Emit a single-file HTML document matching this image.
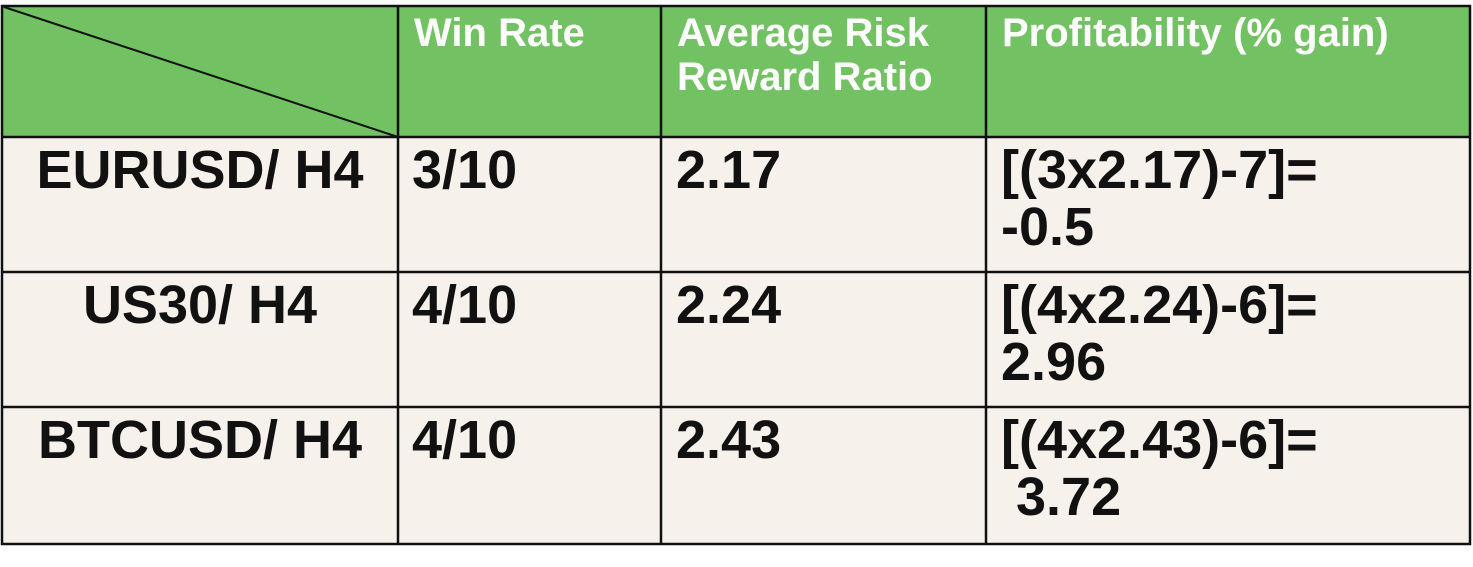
<!DOCTYPE html>
<html><head><meta charset="utf-8"><style>
body{margin:0;width:1473px;height:567px;background:#fff;font-family:"Liberation Sans",sans-serif;position:relative;overflow:hidden}
.c{position:absolute;box-sizing:border-box}
.h{background:#72c162}
.b{background:#f6f2eb}
.t{position:absolute;font-weight:bold;color:#111;font-size:54px;line-height:57px;letter-spacing:0px;white-space:nowrap}
.w{position:absolute;font-weight:bold;color:#fff;font-size:40px;line-height:44px;letter-spacing:0px;white-space:nowrap}
</style></head><body>
<div class="c h" style="left:2px;top:5px;width:1468px;height:132px"></div>
<div class="c b" style="left:2px;top:137px;width:1468px;height:407px"></div>
<svg class="c" style="left:0;top:0" width="1473" height="567">
<g stroke="#111" stroke-width="2.5" fill="none">
<rect x="2" y="6" width="1468" height="538"/>
<line x1="2" y1="137" x2="1470" y2="137"/>
<line x1="2" y1="272" x2="1470" y2="272"/>
<line x1="2" y1="407" x2="1470" y2="407"/>
<line x1="398" y1="6" x2="398" y2="544"/>
<line x1="661" y1="6" x2="661" y2="544"/>
<line x1="986" y1="6" x2="986" y2="544"/>
<line x1="4" y1="7" x2="398" y2="137" stroke-width="2"/>
</g></svg>
<div class="w" style="left:414px;top:11px">Win Rate</div>
<div class="w" style="left:677px;top:11px">Average Risk<br>Reward Ratio</div>
<div class="w" style="left:1002px;top:11px">Profitability (% gain)</div>

<div class="t" style="left:2px;width:396px;text-align:center;top:142px">EURUSD/ H4</div>
<div class="t" style="left:412px;top:142px">3/10</div>
<div class="t" style="left:676px;top:142px">2.17</div>
<div class="t" style="left:1001px;top:142px">[(3x2.17)-7]=<br>-0.5</div>

<div class="t" style="left:2px;width:396px;text-align:center;top:277px">US30/ H4</div>
<div class="t" style="left:412px;top:277px">4/10</div>
<div class="t" style="left:676px;top:277px">2.24</div>
<div class="t" style="left:1001px;top:277px">[(4x2.24)-6]=<br>2.96</div>

<div class="t" style="left:2px;width:396px;text-align:center;top:412px">BTCUSD/ H4</div>
<div class="t" style="left:412px;top:412px">4/10</div>
<div class="t" style="left:676px;top:412px">2.43</div>
<div class="t" style="left:1001px;top:412px">[(4x2.43)-6]=<br>&nbsp;3.72</div>
</body></html>
